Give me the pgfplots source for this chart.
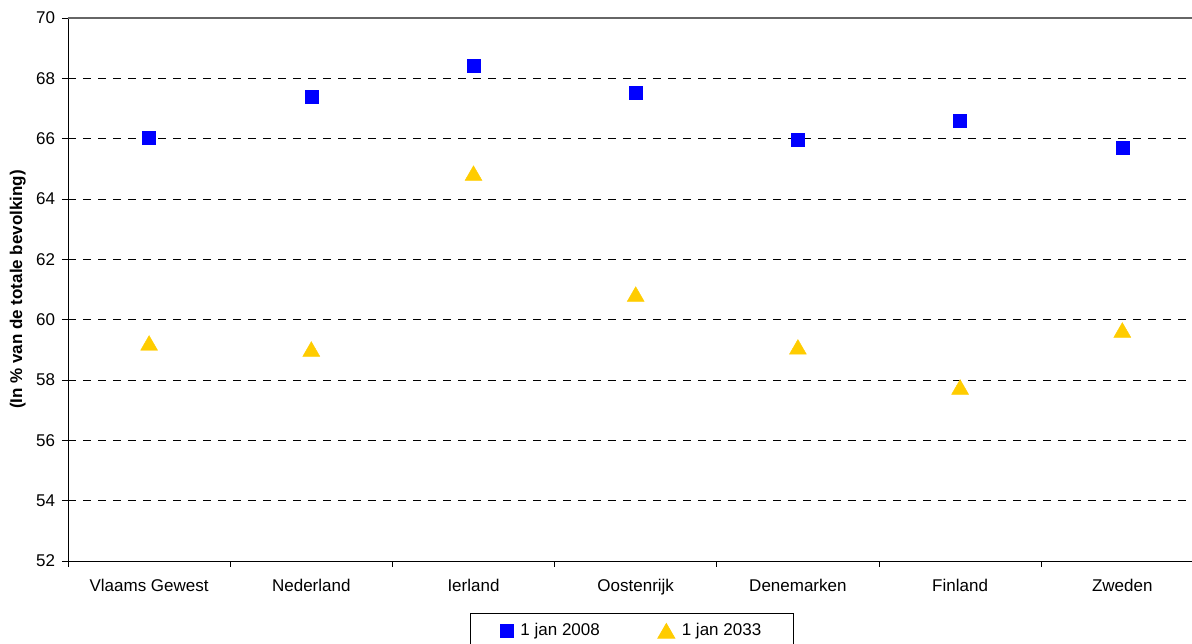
\documentclass[border=0pt]{standalone}
\usepackage{fontspec}
\setmainfont{Liberation Sans}
\usepackage{pgfplots}
\pgfplotsset{compat=1.18}
\definecolor{sqblue}{RGB}{0,0,255}
\definecolor{trigold}{RGB}{255,204,0}
\begin{document}
\fontsize{17}{20}\selectfont
\begin{tikzpicture}
\useasboundingbox (-68pt,-83pt) rectangle (1124pt,561pt);
\begin{axis}[
  at={(0,0)}, anchor=south west,
  scale only axis, width=1135.5pt, height=543pt,
  xmin=-0.5, xmax=6.5, ymin=52, ymax=70,
  axis x line*=bottom, axis y line*=left,
  axis line style={black, line width=0.9pt, -},
  xtick={0,1,2,3,4,5,6},
  xticklabels={Vlaams Gewest,Nederland,Ierland,Oostenrijk,Denemarken,Finland,Zweden},
  major x tick style={draw=none},
  minor xtick={-0.5,0.5,1.5,2.5,3.5,4.5,5.5,6.5},
  minor tick length=6pt,
  minor x tick style={black, line width=0.8pt},
  ytick={52,54,...,70},
  major tick length=6pt,
  tick align=outside,
  y tick style={black, line width=0.8pt},
  ymajorgrids,
  major grid style={black, dash pattern=on 8pt off 7pt, line width=0.7pt},
  /pgf/number format/assume math mode=true,
  ticklabel style={font=\fontsize{17}{20}\selectfont},
  xticklabel style={yshift=-6pt},
  yticklabel style={xshift=-1pt},
  ylabel={\bfseries (In \% van de totale bevolking)},
  ylabel style={yshift=-1pt, font=\fontsize{17}{20}\selectfont},
  legend columns=2,
  legend style={at={(0.4966,0)}, anchor=north, yshift=-52pt, draw=black, line width=0.8pt,
    /tikz/every odd column/.append style={column sep=5pt},
    /tikz/every even column/.append style={column sep=56pt}, inner xsep=30pt, inner ysep=8pt,
    font=\fontsize{17}{20}\selectfont},
  legend image code/.code={\draw[#1] plot coordinates {(0pt,0pt)};},
  clip=false,
]
\addplot[only marks, mark=square*, mark size=6.5pt, color=sqblue] coordinates {
(0,66.02) (1,67.38) (2,68.41) (3,67.51) (4,65.96) (5,66.59) (6,65.69)};
\addlegendentry{1 jan 2008}
\addplot[only marks, mark=triangle*, mark size=9.8pt, color=trigold, mark options={yshift=-2.5pt}] coordinates {
(0,59.23) (1,59.03) (2,64.86) (3,60.85) (4,59.10) (5,57.77) (6,59.66)};
\addlegendentry{1 jan 2033}
\draw[gray!80!black, line width=1.2pt] (rel axis cs:0,1) -- (rel axis cs:1,1);
\end{axis}
\end{tikzpicture}
\end{document}
